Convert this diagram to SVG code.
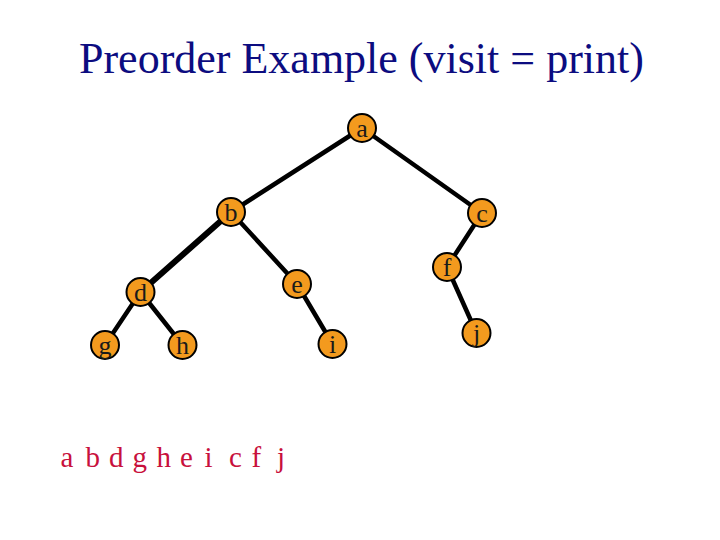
<svg xmlns="http://www.w3.org/2000/svg" width="720" height="540" viewBox="0 0 720 540">
<style>
.node circle{fill:#F39A1E;stroke:#000;stroke-width:2}
.node text{font-family:"Liberation Serif","Times New Roman",serif;font-size:26px;fill:#1a1a1a;text-anchor:middle}
.edge{stroke:#000;stroke-width:4.5;stroke-linecap:round}
.title{font-family:"Liberation Serif","Times New Roman",serif;font-size:44px;fill:#0c0c80}
.seq{font-family:"Liberation Serif","Times New Roman",serif;font-size:29px;fill:#C8103C}
</style>
<rect width="720" height="540" fill="#fff"/>
<text class="title" x="79" y="73">Preorder Example (visit = print)</text>
<g id="connectors">
<line class="edge" x1="362" y1="128" x2="231" y2="212"/>
<line class="edge" x1="362" y1="128" x2="482" y2="213"/>
<line class="edge" x1="231" y1="212" x2="140.5" y2="292" style="stroke-width:6"/>
<line class="edge" x1="231" y1="212" x2="297" y2="284"/>
<line class="edge" x1="482" y1="213" x2="447" y2="267"/>
<line class="edge" x1="140.5" y1="292" x2="105" y2="345"/>
<line class="edge" x1="140.5" y1="292" x2="182.5" y2="345"/>
<line class="edge" x1="297" y1="284" x2="332.5" y2="344"/>
<line class="edge" x1="447" y1="267" x2="476.5" y2="333"/>
</g>
<g id="node-a" class="node"><circle cx="362" cy="128" r="14"/><text x="362" y="137">a</text></g>
<g id="node-b" class="node"><circle cx="231" cy="212" r="14"/><text x="231" y="221">b</text></g>
<g id="node-c" class="node"><circle cx="482" cy="213" r="14"/><text x="482" y="222">c</text></g>
<g id="node-d" class="node"><circle cx="140.5" cy="292" r="14"/><text x="140.5" y="301">d</text></g>
<g id="node-e" class="node"><circle cx="297" cy="284" r="14"/><text x="297" y="293">e</text></g>
<g id="node-f" class="node"><circle cx="447" cy="267" r="14"/><text x="447" y="276">f</text></g>
<g id="node-g" class="node"><circle cx="105" cy="345" r="14"/><text x="105" y="354">g</text></g>
<g id="node-h" class="node"><circle cx="182.5" cy="345" r="14"/><text x="182.5" y="354">h</text></g>
<g id="node-i" class="node"><circle cx="332.5" cy="344" r="14"/><text x="332.5" y="353">i</text></g>
<g id="node-j" class="node"><circle cx="476.5" cy="333" r="14"/><text x="476.5" y="342">j</text></g>
<text class="seq" y="467"><tspan x="60.5">a</tspan> <tspan x="85.5">b</tspan> <tspan x="109">d</tspan> <tspan x="132.5">g</tspan> <tspan x="156.5">h</tspan> <tspan x="180">e</tspan> <tspan x="204.5">i</tspan> <tspan x="229">c</tspan> <tspan x="251.5">f</tspan> <tspan x="277">j</tspan></text>
</svg>
